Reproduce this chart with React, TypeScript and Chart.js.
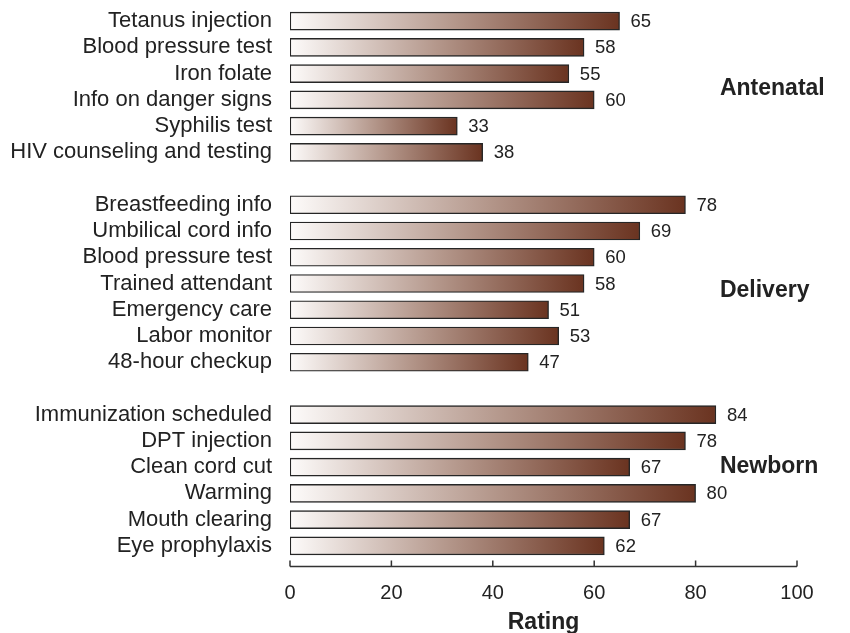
import React, { useEffect, useRef } from "react";
import { Chart, registerables } from "chart.js";

Chart.register(...registerables);

const categories: string[] = [
  "Tetanus injection",
  "Blood pressure test",
  "Iron folate",
  "Info on danger signs",
  "Syphilis test",
  "HIV counseling and testing",
  "",
  "Breastfeeding info",
  "Umbilical cord info",
  "Blood pressure test",
  "Trained attendant",
  "Emergency care",
  "Labor monitor",
  "48-hour checkup",
  "",
  "Immunization scheduled",
  "DPT injection",
  "Clean cord cut",
  "Warming",
  "Mouth clearing",
  "Eye prophylaxis",
];

const ratings: (number | null)[] = [
  65, 58, 55, 60, 33, 38,
  null,
  78, 69, 60, 58, 51, 53, 47,
  null,
  84, 78, 67, 80, 67, 62,
];

const xTicks: number[] = [0, 20, 40, 60, 80, 100];

const groupNames: string[] = ["Antenatal", "Delivery", "Newborn"];
const groupRowAnchors: number[] = [2.55, 10.25, 16.95];
const groupValueAnchor: number[] = [84.8, 84.8, 84.8];

const FONT = "'Liberation Sans', Arial, Helvetica, sans-serif";

const overlayPlugin = {
  id: "overlay",
  afterDatasetsDraw(chart: any) {
    const { ctx, scales } = chart;
    const x = scales.x;
    const y = scales.y;
    ctx.save();
    // value labels
    ctx.fillStyle = "#222";
    ctx.font = `18.5px ${FONT}`;
    ctx.textAlign = "left";
    ctx.textBaseline = "middle";
    ratings.forEach((v, i) => {
      if (v == null) return;
      ctx.fillText(String(v), x.getPixelForValue(v) + 11, y.getPixelForValue(i) + 1);
    });
    // group labels
    ctx.font = `bold 23px ${FONT}`;
    groupNames.forEach((g, i) => {
      ctx.fillText(g, x.getPixelForValue(groupValueAnchor[i]), y.getPixelForValue(groupRowAnchors[i]) + 1);
    });
    // x axis line with inward ticks
    const axisY = chart.chartArea.bottom + 7.5;
    ctx.strokeStyle = "#333";
    ctx.lineWidth = 1.5;
    ctx.beginPath();
    ctx.moveTo(x.getPixelForValue(0), axisY);
    ctx.lineTo(x.getPixelForValue(100), axisY);
    xTicks.forEach((t) => {
      const px = x.getPixelForValue(t);
      ctx.moveTo(px, axisY);
      ctx.lineTo(px, axisY - 6);
    });
    ctx.stroke();
    ctx.restore();
  },
};

export default function App() {
  const ref = useRef<HTMLCanvasElement | null>(null);
  useEffect(() => {
    if (!ref.current) return;
    const chart = new Chart(ref.current, {
      type: "bar",
      data: {
        labels: categories,
        datasets: [
          {
            data: ratings as any,
            backgroundColor: (c: any) => {
              const chart = c.chart;
              if (!chart.chartArea || c.raw == null) return "#8a5a45";
              const xs = chart.scales.x;
              const x0 = xs.getPixelForValue(0);
              const x1 = xs.getPixelForValue(c.raw);
              const g = chart.ctx.createLinearGradient(x0, 0, x1, 0);
              g.addColorStop(0, "#fdfbfa");
              g.addColorStop(0.5, "#b4978b");
              g.addColorStop(1, "#6a3320");
              return g;
            },
            borderColor: "#262626",
            borderWidth: 1.4,
            borderSkipped: false,
            barThickness: 18,
          },
        ],
      },
      options: {
        indexAxis: "y",
        animation: false,
        responsive: true,
        maintainAspectRatio: false,
        layout: { padding: { top: 8, right: 53, left: 0, bottom: 0 } },
        plugins: {
          legend: { display: false },
          tooltip: { enabled: false },
        },
        scales: {
          x: {
            min: 0,
            max: 100,
            grid: { display: false, drawTicks: false },
            border: { display: false },
            ticks: {
              stepSize: 20,
              padding: 22,
              color: "#222",
              font: { family: FONT, size: 20 },
            },
            title: {
              display: true,
              text: "Rating",
              color: "#222",
              font: { family: FONT, size: 23, weight: "bold" },
              padding: { top: 0, bottom: -3 },
            },
            afterFit: (s: any) => {
              s.height = 74;
              s.paddingLeft = 0;
              s.paddingRight = 0;
            },
          },
          y: {
            grid: { display: false, drawTicks: false },
            border: { display: false },
            ticks: {
              autoSkip: false,
              padding: 18,
              color: "#222",
              font: { family: FONT, size: 22 },
            },
            afterFit: (s: any) => {
              s.width = 290;
              s.paddingTop = 0;
              s.paddingBottom = 0;
            },
          },
        },
      },
      plugins: [overlayPlugin],
    });
    return () => chart.destroy();
  }, []);
  return (
    <div style={{ position: "fixed", left: 0, top: 0, width: 850, height: 633, background: "#fff" }}>
      <canvas ref={ref} />
    </div>
  );
}
